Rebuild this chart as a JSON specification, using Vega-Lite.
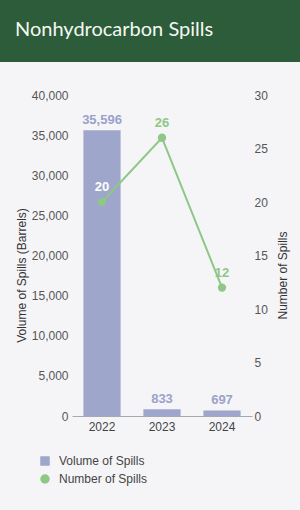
{
  "$schema": "https://vega.github.io/schema/vega-lite/v6.json",
  "background": "#f5f5f8",
  "padding": {"left": 0, "top": 0, "right": 0, "bottom": 25},
  "spacing": 27,
  "config": {
    "view": {"stroke": null},
    "font": "Liberation Sans"
  },
  "datasets": {
    "spills": [
      {"year": "2022", "volume": 35596, "count": 20},
      {"year": "2023", "volume": 833, "count": 26},
      {"year": "2024", "volume": 697, "count": 12}
    ]
  },
  "vconcat": [
    {
      "width": 300,
      "height": 62,
      "view": {"fill": "#2c5c3a", "stroke": null},
      "title": {
        "text": "Nonhydrocarbon Spills",
        "font": "Lato",
        "fontSize": 20,
        "fontWeight": "normal",
        "color": "#f4f8f2",
        "anchor": "start",
        "baseline": "alphabetic",
        "offset": -56,
        "dx": 15
      },
      "data": {"values": []},
      "mark": "rect",
      "encoding": {}
    },
    {
      "width": 252,
      "height": 321,
      "data": {"name": "spills"},
      "encoding": {
        "x": {
          "field": "year",
          "type": "nominal",
          "scale": {"range": [72, 252], "paddingInner": 0.38, "paddingOuter": 0.19},
          "axis": {
            "title": null,
            "labelAngle": 0,
            "ticks": false,
            "labelPadding": 5,
            "labelFontSize": 12,
            "labelColor": "#444444",
            "domainColor": "#a8a8b0"
          }
        }
      },
      "layer": [
        {
          "encoding": {
            "y": {
              "field": "volume",
              "type": "quantitative",
              "scale": {"domain": [0, 40000]},
              "axis": {
                "orient": "left",
                "offset": -72,
                "values": [0, 5000, 10000, 15000, 20000, 25000, 30000, 35000, 40000],
                "format": ",.0f",
                "domain": false,
                "ticks": false,
                "grid": false,
                "labelPadding": 4,
                "labelFontSize": 12,
                "labelColor": "#555555",
                "title": "Volume of Spills (Barrels)",
                "titleFontSize": 12,
                "titleFontWeight": "normal",
                "titleColor": "#333333",
                "titleAngle": 270,
                "titleBaseline": "alphabetic",
                "titleAlign": "center",
                "titleX": -47,
                "titleY": 180
              }
            }
          },
          "layer": [
            {
              "mark": {"type": "bar"},
              "encoding": {
                "color": {
                  "datum": "Volume of Spills",
                  "type": "nominal",
                  "scale": {
                    "domain": ["Volume of Spills", "Number of Spills"],
                    "range": ["#9ea6cc", "#8fc787"]
                  },
                  "legend": {
                    "title": null,
                    "orient": "none",
                    "legendX": 39,
                    "legendY": 455,
                    "direction": "vertical",
                    "labelFontSize": 12,
                    "labelColor": "#444444",
                    "symbolSize": 64,
                    "labelOffset": 8,
                    "rowPadding": 4,
                    "padding": 0
                  }
                }
              }
            },
            {
              "mark": {"type": "text", "baseline": "middle", "dy": -10, "fontSize": 13, "fontWeight": "bold", "color": "#9aa2cb"},
              "encoding": {
                "text": {"field": "volume", "type": "quantitative", "format": ","}
              }
            }
          ]
        },
        {
          "encoding": {
            "y": {
              "field": "count",
              "type": "quantitative",
              "scale": {"domain": [0, 30]},
              "axis": {
                "orient": "right",
                "values": [0, 5, 10, 15, 20, 25, 30],
                "domain": false,
                "ticks": false,
                "grid": false,
                "labelPadding": 2,
                "labelFontSize": 12,
                "labelColor": "#555555",
                "title": "Number of Spills",
                "titleFontSize": 12,
                "titleFontWeight": "normal",
                "titleColor": "#333333",
                "titleAngle": 270,
                "titleBaseline": "alphabetic",
                "titleAlign": "center",
                "titleX": 34,
                "titleY": 180
              }
            }
          },
          "layer": [
            {
              "mark": {"type": "line", "strokeWidth": 2},
              "encoding": {
                "color": {"datum": "Number of Spills", "type": "nominal"}
              }
            },
            {
              "mark": {"type": "point", "filled": true, "size": 70, "opacity": 1},
              "encoding": {
                "color": {"datum": "Number of Spills", "type": "nominal"},
                "shape": {
                  "datum": "Number of Spills",
                  "type": "nominal",
                  "scale": {
                    "domain": ["Volume of Spills", "Number of Spills"],
                    "range": ["square", "circle"]
                  },
                  "legend": {
                    "title": null,
                    "orient": "none",
                    "legendX": 39,
                    "legendY": 455,
                    "direction": "vertical",
                    "labelFontSize": 12,
                    "labelColor": "#444444",
                    "symbolSize": 64,
                    "labelOffset": 8,
                    "rowPadding": 4,
                    "padding": 0
                  }
                }
              }
            },
            {
              "mark": {"type": "text", "baseline": "middle", "dy": -15, "fontSize": 13, "fontWeight": "bold"},
              "encoding": {
                "text": {"field": "count", "type": "quantitative"},
                "color": {
                  "condition": {"test": "datum.year == '2022'", "value": "#ffffff"},
                  "value": "#8fc787"
                }
              }
            }
          ]
        }
      ],
      "resolve": {"scale": {"y": "independent"}}
    }
  ]
}
